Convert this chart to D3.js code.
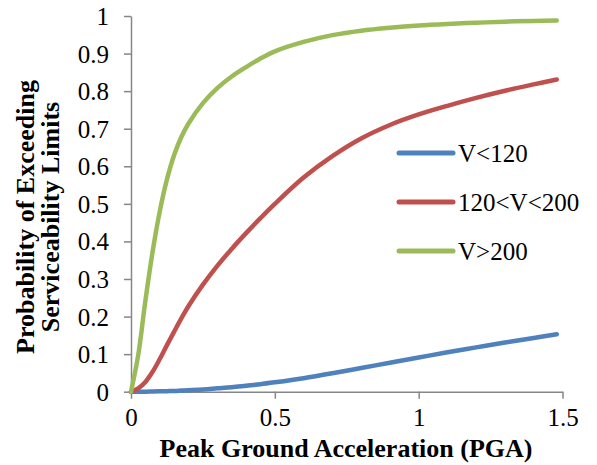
<!DOCTYPE html>
<html>
<head>
<meta charset="utf-8">
<script src="https://cdn.jsdelivr.net/npm/d3@7/dist/d3.min.js"></script>
<style>
  html, body { margin: 0; padding: 0; background: #fff; }
  svg { display: block; }
  text { font-family: "Liberation Serif", "Times New Roman", serif; fill: #000; }
</style>
</head>
<body>
<svg id="chart" width="597" height="465"></svg>
<script>
// ---- Data ----
const pga   = [0, 0.025, 0.05, 0.075, 0.1, 0.125, 0.15, 0.175, 0.2, 0.25, 0.3, 0.35, 0.4, 0.45, 0.5, 0.6, 0.7, 0.8, 0.9, 1.0, 1.1, 1.2, 1.3, 1.4, 1.48];
const vLow  = [0, 0, 0, 0.0005, 0.001, 0.0015, 0.002, 0.003, 0.004, 0.006, 0.009, 0.012, 0.016, 0.020, 0.025, 0.036, 0.049, 0.063, 0.077, 0.091, 0.105, 0.118, 0.131, 0.143, 0.153];
const vMid  = [0, 0.009, 0.026, 0.053, 0.087, 0.124, 0.160, 0.195, 0.228, 0.285, 0.335, 0.380, 0.422, 0.462, 0.500, 0.570, 0.627, 0.674, 0.710, 0.738, 0.761, 0.782, 0.801, 0.818, 0.831];
const vHigh = [0, 0.097, 0.242, 0.372, 0.480, 0.565, 0.630, 0.678, 0.714, 0.768, 0.808, 0.839, 0.864, 0.887, 0.906, 0.931, 0.949, 0.961, 0.969, 0.975, 0.979, 0.982, 0.985, 0.987, 0.988];
const seriesNames = ["V<120", "120<V<200", "V>200"];
const seriesColors = ["#4F81BD", "#C0504D", "#9BBB59"];
const xTicks = [0, 0.5, 1, 1.5];
const xTickLabels = ["0", "0.5", "1", "1.5"];
const yTicks = [0, 0.1, 0.2, 0.3, 0.4, 0.5, 0.6, 0.7, 0.8, 0.9, 1];
const yTickLabels = ["0", "0.1", "0.2", "0.3", "0.4", "0.5", "0.6", "0.7", "0.8", "0.9", "1"];
const xTitle = "Peak Ground Acceleration (PGA)";
const yTitleLines = ["Probability of Exceeding", "Serviceability Limits"];

// ---- Layout ----
const svg = d3.select("#chart");
const x = d3.scaleLinear().domain([0, 1.5]).range([131, 562.5]);
const y = d3.scaleLinear().domain([0, 1]).range([391.7, 16]);
const axisColor = "#868686";

// Y axis
const yAxis = d3.axisLeft(y).tickValues(yTicks).tickSize(7).tickSizeOuter(0)
  .tickFormat((d, i) => yTickLabels[i]);
const gy = svg.append("g").attr("transform", `translate(${x(0)},0)`).call(yAxis);
gy.select(".domain").attr("stroke", axisColor).attr("stroke-width", 1.5);
gy.selectAll(".tick line").attr("stroke", axisColor).attr("stroke-width", 1.5);
gy.selectAll(".tick text").attr("x", -22).attr("dy", "0.34em")
  .style("font-family", "'Liberation Serif', serif").style("font-size", "25px").attr("fill", "#000");

// X axis
const xAxis = d3.axisBottom(x).tickValues(xTicks).tickSize(7).tickSizeOuter(0)
  .tickFormat((d, i) => xTickLabels[i]);
const gx = svg.append("g").attr("transform", `translate(0,${y(0)})`).call(xAxis);
gx.select(".domain").attr("stroke", axisColor).attr("stroke-width", 1.5);
gx.selectAll(".tick line").attr("stroke", axisColor).attr("stroke-width", 1.5);
gx.selectAll(".tick text").attr("y", 17).attr("dy", "0.71em")
  .style("font-family", "'Liberation Serif', serif").style("font-size", "25px").attr("fill", "#000");

// Series
const allSeries = [vLow, vMid, vHigh];
const line = d3.line().x(d => x(d[0])).y(d => y(d[1])).curve(d3.curveCatmullRom.alpha(0.5));
allSeries.forEach((vals, i) => {
  svg.append("path")
    .datum(pga.map((p, j) => [p, vals[j]]))
    .attr("fill", "none")
    .attr("stroke", seriesColors[i])
    .attr("stroke-width", 4.5)
    .attr("stroke-linecap", "round")
    .attr("stroke-linejoin", "round")
    .attr("d", line);
});

// Legend
const legendY = [153, 202, 251];
seriesNames.forEach((name, i) => {
  svg.append("line")
    .attr("x1", 399).attr("x2", 453)
    .attr("y1", legendY[i]).attr("y2", legendY[i])
    .attr("stroke", seriesColors[i]).attr("stroke-width", 5).attr("stroke-linecap", "round");
  svg.append("text")
    .attr("x", 458).attr("y", legendY[i]).attr("dy", "0.34em")
    .style("font-size", "25px")
    .text(name);
});

// X title
svg.append("text")
  .attr("x", 346).attr("y", 457)
  .attr("text-anchor", "middle")
  .style("font-size", "26px").style("font-weight", "bold")
  .text(xTitle);

// Y title (two lines, rotated)
const yt = svg.append("text")
  .attr("transform", "translate(34,217) rotate(-90)")
  .attr("text-anchor", "middle")
  .style("font-size", "26px").style("font-weight", "bold");
yTitleLines.forEach((t, i) => {
  yt.append("tspan").attr("x", 0).attr("y", i * 25).text(t);
});
</script>
</body>
</html>
